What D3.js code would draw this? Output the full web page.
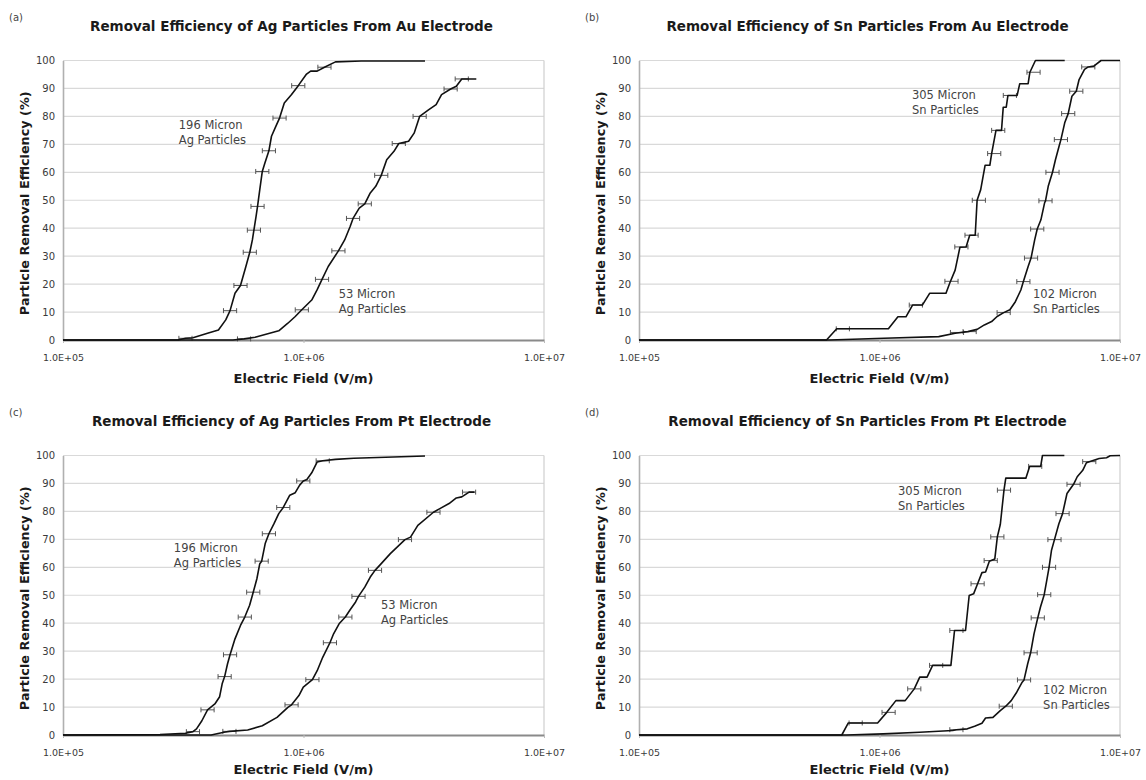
<!DOCTYPE html>
<html>
<head>
<meta charset="utf-8">
<script src="https://cdn.jsdelivr.net/npm/d3@7"></script>
<style>
  html, body { margin: 0; padding: 0; background: #fff; }
  svg { display: block; }
</style>
</head>
<body>
<svg id="chart" width="1146" height="780"></svg>
<script>
// ---------------- DATA ----------------
const fieldTicks = [1e5, 1e6, 1e7];
const fieldTickLabels = ["1.0E+05", "1.0E+06", "1.0E+07"];
const pctTicks = [0, 10, 20, 30, 40, 50, 60, 70, 80, 90, 100];
const relErr = 0.065; // relative horizontal error on field

const panelLetters = ["(a)", "(b)", "(c)", "(d)"];
const panelTitles = [
  "Removal Efficiency of Ag Particles From Au Electrode",
  "Removal Efficiency of Sn Particles From Au Electrode",
  "Removal Efficiency of Ag Particles From Pt Electrode",
  "Removal Efficiency of Sn Particles From Pt Electrode"
];
const xAxisTitle = "Electric Field (V/m)";
const yAxisTitle = "Particle Removal Efficiency (%)";

// (a) Ag on Au
const aAg196 = [[1e5,0],[3.01e5,0],[3.23e5,0.6],[3.47e5,0.8],[3.99e5,2.4],[4.43e5,3.6],[4.75e5,7.2],[4.95e5,10.5],[5.19e5,16.7],[5.47e5,19.5],[5.76e5,26.3],[5.98e5,31.4],[6.13e5,35.8],[6.22e5,39.3],[6.35e5,44.2],[6.44e5,47.8],[6.58e5,53.8],[6.74e5,60.3],[6.91e5,63.3],[7.18e5,67.7],[7.36e5,72.9],[7.68e5,76.5],[7.95e5,79.4],[8.32e5,84.8],[8.92e5,87.8],[9.51e5,91.0],[1.026e6,95.0],[1.071e6,96.2],[1.14e6,96.2],[1.222e6,97.6],[1.358e6,99.5],[1.738e6,99.8],[3.2e6,99.8]];
const aAg196Err = [[3.23e5,0.6],[4.95e5,10.5],[5.47e5,19.5],[5.98e5,31.4],[6.22e5,39.3],[6.44e5,47.8],[6.74e5,60.3],[7.18e5,67.7],[7.95e5,79.4],[9.51e5,91.0],[1.222e6,97.6]];
const aAg53 = [[1e5,0],[5.09e5,0],[5.66e5,0.4],[6.29e5,1.0],[7.23e5,2.4],[7.89e5,3.3],[8.61e5,6.0],[9.24e5,8.4],[9.84e5,10.8],[1.082e6,14.3],[1.14e6,18.0],[1.194e6,21.7],[1.267e6,26.3],[1.397e6,31.9],[1.483e6,35.8],[1.563e6,40.6],[1.607e6,43.5],[1.705e6,47.2],[1.798e6,48.7],[1.895e6,52.6],[1.997e6,55.0],[2.105e6,58.9],[2.218e6,64.5],[2.378e6,67.5],[2.49e6,70.3],[2.735e6,71.1],[2.884e6,74.0],[3.04e6,80.0],[3.32e6,82.4],[3.56e6,84.2],[3.75e6,87.8],[4.09e6,89.8],[4.32e6,90.8],[4.55e6,93.4],[5.23e6,93.4]];
const aAg53Err = [[5.66e5,0.4],[9.84e5,10.8],[1.194e6,21.7],[1.397e6,31.9],[1.607e6,43.5],[1.798e6,48.7],[2.105e6,58.9],[2.49e6,70.3],[3.04e6,80.0],[4.09e6,89.8],[4.55e6,93.4]];

// (b) Sn on Au
const bSn305 = [[1e5,0],[6.02e5,0],[6.64e5,4.0],[1.089e6,4.0],[1.193e6,8.3],[1.288e6,8.3],[1.372e6,12.5],[1.507e6,12.5],[1.616e6,16.7],[1.89e6,16.7],[1.958e6,20.3],[2.063e6,25.0],[2.16e6,33.2],[2.291e6,33.3],[2.372e6,37.5],[2.5e6,37.5],[2.546e6,50.0],[2.635e6,53.8],[2.748e6,62.5],[2.876e6,62.5],[2.926e6,66.7],[3.05e6,75.0],[3.216e6,75.0],[3.27e6,83.3],[3.365e6,83.3],[3.42e6,87.5],[3.735e6,87.5],[3.83e6,91.7],[4.15e6,91.7],[4.22e6,95.8],[4.45e6,100],[5.89e6,100]];
const bSn305Err = [[7.04e5,4.0],[1.416e6,12.5],[1.992e6,21.0],[2.19e6,33.3],[2.414e6,37.5],[2.589e6,50.0],[2.999e6,66.7],[3.116e6,75.0],[3.484e6,87.5],[4.37e6,95.8]];
const bSn102 = [[1e5,0],[6.19e5,0],[1.044e6,0.6],[1.763e6,1.2],[2.063e6,2.4],[2.33e6,3.0],[2.546e6,3.8],[2.729e6,5.4],[2.926e6,6.6],[3.083e6,8.4],[3.283e6,9.8],[3.484e6,10.8],[3.672e6,13.7],[3.87e6,17.9],[3.965e6,20.9],[4.15e6,26.3],[4.267e6,29.3],[4.418e6,35.8],[4.527e6,39.7],[4.69e6,43.0],[4.855e6,49.0],[4.9e6,49.8],[5.03e6,55.0],[5.24e6,60.0],[5.39e6,64.5],[5.58e6,69.3],[5.68e6,71.7],[5.89e6,77.7],[6.09e6,81.0],[6.31e6,87.2],[6.58e6,89.0],[6.76e6,93.2],[7.12e6,96.8],[7.38e6,97.7],[7.78e6,98.0],[8.34e6,100],[1e7,100]];
const bSn102Err = [[2.1e6,2.7],[2.37e6,3.0],[3.283e6,9.8],[3.965e6,20.9],[4.267e6,29.3],[4.527e6,39.7],[4.9e6,49.8],[5.24e6,60.0],[5.68e6,71.7],[6.09e6,81.0],[6.58e6,89.0],[7.38e6,97.7]];

// (c) Ag on Pt
const cAg196 = [[1e5,0],[2.53e5,0.2],[3.23e5,0.6],[3.47e5,1.2],[3.59e5,2.2],[3.78e5,5.1],[3.99e5,9.0],[4.28e5,11.1],[4.48e5,13.7],[4.59e5,18.3],[4.7e5,20.9],[4.83e5,25.4],[4.95e5,28.7],[5.19e5,34.4],[5.47e5,39.2],[5.7e5,42.2],[5.97e5,46.4],[6.18e5,51.1],[6.4e5,55.9],[6.58e5,61.3],[6.7e5,62.2],[6.93e5,68.5],[7.18e5,72.0],[7.54e5,75.6],[7.89e5,79.2],[8.24e5,81.4],[8.77e5,85.8],[9.24e5,86.7],[9.64e5,89.4],[9.98e5,90.9],[1.033e6,91.4],[1.082e6,93.8],[1.14e6,97.7],[1.202e6,98.1],[1.358e6,98.6],[1.618e6,99.0],[3.2e6,99.8]];
const cAg196Err = [[3.47e5,1.2],[3.99e5,9.0],[4.7e5,20.9],[4.95e5,28.7],[5.7e5,42.2],[6.18e5,51.1],[6.7e5,62.2],[7.18e5,72.0],[8.24e5,81.4],[9.98e5,90.9],[1.202e6,98.1]];
const cAg53 = [[1e5,0],[4.13e5,0],[4.67e5,1.0],[4.92e5,1.3],[5.86e5,1.8],[6.74e5,3.3],[7.76e5,6.3],[8.61e5,9.9],[8.92e5,10.8],[9.57e5,14.1],[9.98e5,17.1],[1.089e6,19.8],[1.14e6,23.0],[1.202e6,27.8],[1.288e6,33.0],[1.334e6,36.2],[1.406e6,39.8],[1.493e6,42.2],[1.563e6,44.8],[1.647e6,47.6],[1.693e6,49.6],[1.798e6,52.9],[1.895e6,56.5],[1.983e6,58.9],[2.105e6,61.3],[2.296e6,64.9],[2.642e6,69.9],[2.786e6,70.8],[2.988e6,75.0],[3.47e6,79.7],[3.69e6,81.0],[4.03e6,82.8],[4.32e6,84.8],[4.55e6,85.2],[4.88e6,86.9],[5.14e6,86.9]];
const cAg53Err = [[4.92e5,1.3],[8.92e5,10.8],[1.089e6,19.8],[1.288e6,33.0],[1.493e6,42.2],[1.693e6,49.6],[1.983e6,58.9],[2.642e6,69.9],[3.47e6,79.7],[4.88e6,86.9]];

// (d) Sn on Pt
const dSn305 = [[1e5,0],[6.97e5,0],[7.42e5,4.3],[9.82e5,4.3],[1.072e6,8.1],[1.17e6,12.3],[1.279e6,12.3],[1.395e6,16.5],[1.47e6,20.7],[1.577e6,20.7],[1.663e6,24.9],[1.981e6,24.9],[2.051e6,37.4],[2.279e6,37.4],[2.36e6,49.9],[2.462e6,50.5],[2.558e6,54.1],[2.667e6,58.1],[2.761e6,58.3],[2.862e6,62.2],[3.016e6,63.0],[3.09e6,70.9],[3.18e6,75.4],[3.293e6,87.6],[3.35e6,91.9],[4.06e6,91.9],[4.21e6,96.1],[4.68e6,96.1],[4.76e6,100],[5.87e6,100]];
const dSn305Err = [[7.96e5,4.3],[1.091e6,8.1],[1.395e6,16.5],[1.72e6,24.9],[2.088e6,37.4],[2.558e6,54.1],[2.9e6,62.4],[3.09e6,70.9],[3.293e6,87.6],[4.44e6,96.1]];
const dSn102 = [[1e5,0],[7.29e5,0],[1.035e6,0.4],[1.47e6,1.0],[2.015e6,1.6],[2.088e6,1.9],[2.318e6,2.2],[2.486e6,3.1],[2.667e6,4.2],[2.761e6,6.1],[2.963e6,6.3],[3.178e6,8.7],[3.35e6,10.3],[3.53e6,12.3],[3.72e6,15.3],[3.92e6,18.9],[3.99e6,19.7],[4.13e6,25.4],[4.25e6,29.4],[4.39e6,36.2],[4.55e6,41.9],[4.67e6,45.8],[4.84e6,50.2],[4.96e6,55.3],[5.07e6,60.0],[5.19e6,66.1],[5.34e6,69.9],[5.57e6,75.6],[5.77e6,79.2],[6.02e6,86.4],[6.41e6,89.7],[6.64e6,92.4],[7.0e6,94.7],[7.25e6,97.4],[7.45e6,97.8],[8.19e6,98.9],[8.79e6,99.2],[9.1e6,99.9],[1e7,100]];
const dSn102Err = [[2.088e6,1.9],[3.35e6,10.3],[3.99e6,19.7],[4.25e6,29.4],[4.55e6,41.9],[4.84e6,50.2],[5.07e6,60.0],[5.34e6,69.9],[5.77e6,79.2],[6.41e6,89.7],[7.45e6,97.8]];

// curve labels: two lines, anchored in data coordinates (field, percent of first line)
const panelSeries = [
  [{ data: aAg196, err: aAg196Err, label: ["196 Micron", "Ag Particles"], at: [3.03e5, 77] },
   { data: aAg53,  err: aAg53Err,  label: ["53 Micron", "Ag Particles"],  at: [1.40e6, 16.3] }],
  [{ data: bSn305, err: bSn305Err, label: ["305 Micron", "Sn Particles"], at: [1.365e6, 87.8] },
   { data: bSn102, err: bSn102Err, label: ["102 Micron", "Sn Particles"], at: [4.35e6, 16.6] }],
  [{ data: cAg196, err: cAg196Err, label: ["196 Micron", "Ag Particles"], at: [2.89e5, 66.8] },
   { data: cAg53,  err: cAg53Err,  label: ["53 Micron", "Ag Particles"],  at: [2.1e6, 46.4] }],
  [{ data: dSn305, err: dSn305Err, label: ["305 Micron", "Sn Particles"], at: [1.194e6, 87.3] },
   { data: dSn102, err: dSn102Err, label: ["102 Micron", "Sn Particles"], at: [4.79e6, 16.1] }]
];

// ---------------- DRAW ----------------
const svg = d3.select("#chart");
const FONT = "'DejaVu Sans', Verdana, sans-serif";
const panelW = 576, panelH = 395;

panelSeries.forEach((series, i) => {
  const row = Math.floor(i / 2);
  const ox = (i % 2) * panelW;
  const oy = row * panelH;
  const left = ox + 63, right = ox + 544;
  const top = oy + 60.5, bottom = oy + 340;

  const x = d3.scaleLog().domain([1e5, 1e7]).range([left, right]);
  const y = d3.scaleLinear().domain([0, 100]).range([bottom, top]);
  const g = svg.append("g");

  // letter + title
  g.append("text").attr("x", ox + 9).attr("y", oy + 21)
    .attr("font-family", FONT).attr("font-size", 10).attr("fill", "#444")
    .text(panelLetters[i]);
  g.append("text").attr("x", (left + right) / 2 - 12).attr("y", oy + 31)
    .attr("text-anchor", "middle").attr("font-family", FONT)
    .attr("font-size", 13.5).attr("font-weight", "bold").attr("fill", "#1a1a1a")
    .text(panelTitles[i]);

  // gridlines
  g.append("g").selectAll("line").data(pctTicks.filter(t => t > 0)).join("line")
    .attr("x1", left).attr("x2", right)
    .attr("y1", d => y(d)).attr("y2", d => y(d))
    .attr("stroke", "#d9d9d9").attr("stroke-width", 1.2);
  // right border
  g.append("line").attr("x1", right).attr("x2", right).attr("y1", top).attr("y2", bottom)
    .attr("stroke", "#cfcfcf").attr("stroke-width", 1.2);

  // y axis
  const yAxis = d3.axisLeft(y).tickValues(pctTicks).tickSize(0).tickPadding(8);
  const ya = g.append("g").attr("transform", `translate(${left},0)`).call(yAxis);
  ya.select(".domain").attr("stroke", "#b0b0b0").attr("stroke-width", 1.6);
  ya.selectAll("text").attr("font-family", FONT).attr("font-size", 10).attr("fill", "#3a3a3a");

  // x axis
  const xAxis = d3.axisBottom(x).tickValues(fieldTicks)
    .tickFormat((d, k) => fieldTickLabels[k]).tickSize(3).tickSizeOuter(0).tickPadding(11);
  const xa = g.append("g").attr("transform", `translate(0,${bottom})`).call(xAxis);
  xa.select(".domain").attr("stroke", "#8a8a8a").attr("stroke-width", 1.8);
  xa.selectAll(".tick line").attr("stroke", "#bbb");
  xa.selectAll("text").attr("font-family", FONT).attr("font-size", 9.5).attr("fill", "#3a3a3a");

  // axis titles
  g.append("text").attr("x", (left + right) / 2).attr("y", row === 0 ? 383 : 774)
    .attr("text-anchor", "middle").attr("font-family", FONT)
    .attr("font-size", 13).attr("font-weight", "bold").attr("fill", "#1a1a1a")
    .text(xAxisTitle);
  g.append("text")
    .attr("transform", `translate(${ox + 29},${(top + bottom) / 2 + 3}) rotate(-90)`)
    .attr("text-anchor", "middle").attr("font-family", FONT)
    .attr("font-size", 12.8).attr("font-weight", "bold").attr("fill", "#1a1a1a")
    .text(yAxisTitle);

  const line = d3.line().x(d => x(d[0])).y(d => y(d[1]));

  series.forEach(s => {
    // error bars
    const eb = g.append("g");
    s.err.forEach(p => {
      const x0 = x(p[0] / (1 + relErr)), x1 = x(p[0] * (1 + relErr)), yy = y(p[1]);
      eb.append("line").attr("x1", x0).attr("x2", x1).attr("y1", yy).attr("y2", yy)
        .attr("stroke", "#555").attr("stroke-width", 1);
      [x0, x1].forEach(xx => eb.append("line").attr("x1", xx).attr("x2", xx)
        .attr("y1", yy - 2.5).attr("y2", yy + 2.5).attr("stroke", "#555").attr("stroke-width", 1));
    });
    // curve
    g.append("path").datum(s.data).attr("d", line)
      .attr("fill", "none").attr("stroke", "#111").attr("stroke-width", 1.6)
      .attr("stroke-linejoin", "round");
    // label
    const t = g.append("text").attr("font-family", FONT).attr("font-size", 11.5).attr("fill", "#444");
    s.label.forEach((ln, k) => {
      t.append("tspan").attr("x", x(s.at[0])).attr("y", y(s.at[1]) + 4 + k * 15).text(ln);
    });
  });
});
</script>
</body>
</html>
